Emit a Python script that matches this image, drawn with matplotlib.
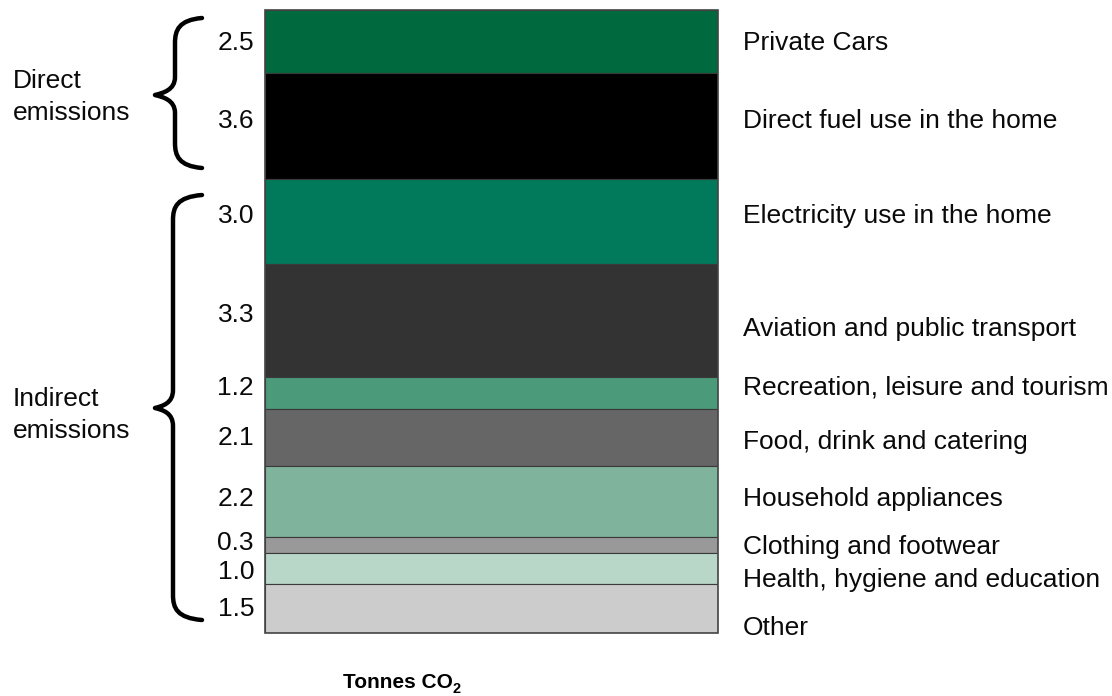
import numpy as np
import matplotlib
matplotlib.use('Agg')
import matplotlib.pyplot as plt
from matplotlib.path import Path
from matplotlib.patches import PathPatch, Rectangle

plt.rcParams['font.family'] = ['Liberation Sans', 'DejaVu Sans']

# data
categories = ['Private Cars', 'Direct fuel use in the home', 'Electricity use in the home',
              'Aviation and public transport', 'Recreation, leisure and tourism',
              'Food, drink and catering', 'Household appliances', 'Clothing and footwear',
              'Health, hygiene and education', 'Other']
value_labels = ['2.5', '3.6', '3.0', '3.3', '1.2', '2.1', '2.2', '0.3', '1.0', '1.5']
# drawn segment heights (the picture does not draw them to scale)
seg_heights = [63, 106, 85, 113, 32, 57, 71, 16, 31, 49]
colors = ['#006a3f', '#000000', '#007a5a', '#333333', '#4b9a79',
          '#666666', '#80b39c', '#999999', '#b9d7c9', '#cccccc']

# label y positions in figure pixels (from top)
value_y = [43, 121, 216, 315, 388, 438, 499, 543, 572, 609]
name_y = [43, 121, 216, 329, 388, 442, 499, 547, 580, 628]

W, H = 1112, 696
fig = plt.figure(figsize=(W / 100, H / 100), dpi=100)

# bar axes
ax = fig.add_axes([265 / W, (H - 633) / H, (718 - 265) / W, (633 - 10) / H])
bottoms = np.concatenate([[0], np.cumsum(seg_heights)[:-1]])
ax.bar(0, seg_heights, bottom=bottoms, width=1, align='edge',
       color=colors, edgecolor='#3a3a3a', linewidth=0.8)
ax.add_patch(Rectangle((0, 0), 1, sum(seg_heights), facecolor='none',
                       edgecolor='#444444', linewidth=1.2, clip_on=False))
ax.set_xlim(0, 1)
ax.set_ylim(sum(seg_heights), 0)
ax.axis('off')

def fy(py):
    return 1 - py / H

for v, y in zip(value_labels, value_y):
    fig.text(254 / W, fy(y), v, ha='right', va='center', fontsize=19, color='#0a0a0a')
for c, y in zip(categories, name_y):
    fig.text(743 / W, fy(y), c, ha='left', va='center', fontsize=19, color='#0a0a0a')

fig.text(13 / W, fy(97), 'Direct\nemissions', ha='left', va='center',
         fontsize=19, linespacing=1.45, color='#0a0a0a')
fig.text(13 / W, fy(415), 'Indirect\nemissions', ha='left', va='center',
         fontsize=19, linespacing=1.45, color='#0a0a0a')

# braces drawn in figure pixel coords
def brace(top, bot, tip, x_end=202, x_line=175, x_tip=155):
    verts = [
        (x_end, top),
        (x_line + 4, top + 2), (x_line, top + 12), (x_line, top + 25),
        (x_line, tip - 18),
        (x_line, tip - 5), (x_tip + 8, tip - 2), (x_tip, tip),
        (x_tip + 8, tip + 2), (x_line, tip + 5), (x_line, tip + 18),
        (x_line, bot - 25),
        (x_line, bot - 12), (x_line + 4, bot - 2), (x_end, bot),
    ]
    codes = [Path.MOVETO,
             Path.CURVE4, Path.CURVE4, Path.CURVE4,
             Path.LINETO,
             Path.CURVE4, Path.CURVE4, Path.CURVE4,
             Path.CURVE4, Path.CURVE4, Path.CURVE4,
             Path.LINETO,
             Path.CURVE4, Path.CURVE4, Path.CURVE4]
    verts = [(x / W, 1 - y / H) for x, y in verts]
    fig.patches.append(PathPatch(Path(verts, codes), transform=fig.transFigure,
                                 facecolor='none', edgecolor='black', linewidth=3.2,
                                 capstyle='round', joinstyle='round'))

brace(18, 168, 95)
brace(195, 620, 408, x_line=173)

# axis title with subscript
fig.text(343 / W, fy(683), 'Tonnes CO', ha='left', va='center', fontsize=15,
         fontweight='bold')
fig.text(452 / W, fy(689), '2', ha='left', va='center', fontsize=10.5,
         fontweight='bold')

fig.savefig('out.png', dpi=100)
